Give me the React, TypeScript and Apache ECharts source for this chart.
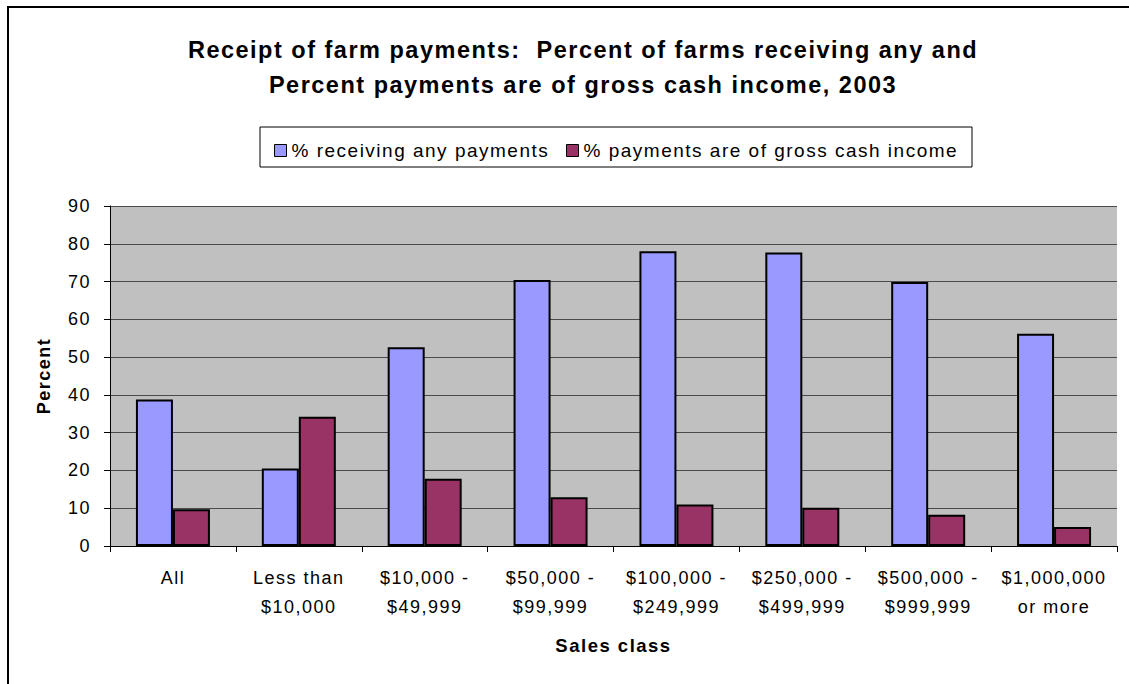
import React, { useEffect, useRef } from "react";
import * as echarts from "echarts";

const categories = [
  "All",
  "Less than\n$10,000",
  "$10,000 -\n$49,999",
  "$50,000 -\n$99,999",
  "$100,000 -\n$249,999",
  "$250,000 -\n$499,999",
  "$500,000 -\n$999,999",
  "$1,000,000\nor more",
];
const receivingAny = [38.8, 20.5, 52.6, 70.4, 78.0, 77.7, 69.9, 56.2];
const pctOfGrossIncome = [9.7, 34.2, 17.8, 12.9, 11.0, 10.1, 8.3, 5.0];
const seriesNames = ["% receiving any payments", "% payments are of gross cash income"];
const yTicks = { min: 0, max: 90, interval: 10 };
const titleText =
  "Receipt of farm payments:  Percent of farms receiving any and\nPercent payments are of gross cash income, 2003";

const FONT = "'Liberation Sans', Arial, sans-serif";

export default function App() {
  const ref = useRef<HTMLDivElement>(null);
  useEffect(() => {
    if (!ref.current) return;
    const chart = echarts.init(ref.current, null, { renderer: "svg" });
    const legendBase = {
      itemWidth: 12,
      itemHeight: 12,
      icon: "rect",
      top: 136,
      itemStyle: { borderColor: "#000", borderWidth: 1 },
      textStyle: { fontFamily: FONT, fontSize: 19, color: "#000" },
    };
    chart.setOption({
      animation: false,
      backgroundColor: "#ffffff",
      title: {
        text: titleText,
        left: 578,
        textAlign: "center",
        top: 27,
        textStyle: {
          fontFamily: FONT,
          fontSize: 23.5,
          fontWeight: "bold",
          color: "#000",
          lineHeight: 35,
        },
      },
      graphic: [
        {
          type: "rect",
          shape: { x: 8, y: 7, width: 1200, height: 760 },
          style: { fill: "none", stroke: "#000", lineWidth: 2 },
          silent: true,
        },
        {
          type: "rect",
          shape: { x: 260, y: 127, width: 712, height: 40 },
          style: { fill: "#fff", stroke: "#000", lineWidth: 1 },
          silent: true,
          z: -1,
        },
      ],
      legend: [
        { ...legendBase, data: [seriesNames[0]], left: 269 },
        { ...legendBase, data: [seriesNames[1]], left: 561 },
      ],
      grid: {
        left: 110,
        right: 12,
        top: 206,
        bottom: 138,
        show: true,
        backgroundColor: "#C0C0C0",
        borderWidth: 0,
      },
      xAxis: {
        type: "category",
        data: categories,
        name: "Sales class",
        nameLocation: "middle",
        nameGap: 90,
        nameTextStyle: { fontFamily: FONT, fontSize: 18.5, fontWeight: "bold", color: "#000" },
        axisLine: { show: true, lineStyle: { color: "#000", width: 1 } },
        axisTick: { show: true, length: 6, lineStyle: { color: "#000" } },
        axisLabel: {
          interval: 0,
          margin: 17,
          fontFamily: FONT,
          fontSize: 18,
          lineHeight: 29,
          color: "#000",
        },
      },
      yAxis: {
        type: "value",
        min: yTicks.min,
        max: yTicks.max,
        interval: yTicks.interval,
        name: "Percent",
        nameLocation: "middle",
        nameRotate: 90,
        nameGap: 57,
        nameTextStyle: { fontFamily: FONT, fontSize: 18, fontWeight: "bold", color: "#000" },
        axisLine: { show: true, lineStyle: { color: "#000", width: 1 } },
        axisTick: { show: true, length: 6, lineStyle: { color: "#000" } },
        axisLabel: { margin: 19, fontFamily: FONT, fontSize: 18, color: "#000" },
        splitLine: { show: true, lineStyle: { color: "#4a4a4a", width: 1 } },
      },
      series: [
        {
          name: seriesNames[0],
          type: "bar",
          data: receivingAny,
          barWidth: 37,
          barGap: "0%",
          itemStyle: { color: "#9999FF", borderColor: "#000", borderWidth: 2 },
        },
        {
          name: seriesNames[1],
          type: "bar",
          data: pctOfGrossIncome,
          barWidth: 37,
          barGap: "0%",
          itemStyle: { color: "#993366", borderColor: "#000", borderWidth: 2 },
        },
      ],
    });
    return () => chart.dispose();
  }, []);
  return (
    <div
      ref={ref}
      style={{
        position: "fixed",
        left: 0,
        top: 0,
        width: 1129,
        height: 684,
        letterSpacing: "1.5px",
      }}
    />
  );
}
